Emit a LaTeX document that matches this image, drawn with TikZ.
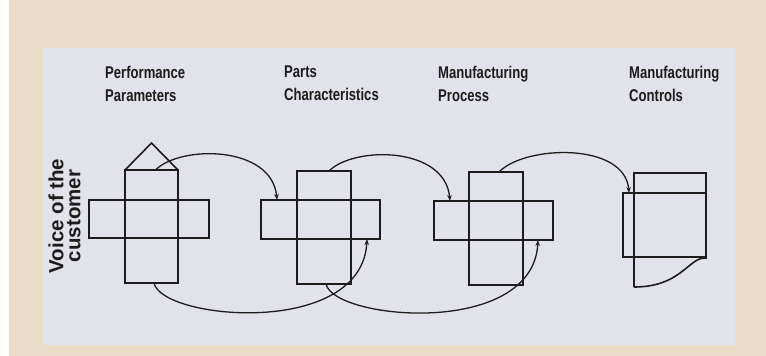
\documentclass[tikz,border=0pt]{standalone}
\usepackage{fontspec}
\setmainfont{Liberation Sans}
\newfontfamily\headfont{Liberation Sans}[FakeStretch=0.77,UprightFont=*-Bold]
\usetikzlibrary{arrows.meta,calc}
\definecolor{beige}{RGB}{233,221,199}
\definecolor{panel}{RGB}{226,227,234}
\definecolor{ink}{RGB}{28,28,28}
\begin{document}
\begin{tikzpicture}[x=1pt,y=-1pt,
  blk/.style={draw=ink, line width=1.6pt, inner sep=0pt, outer sep=0pt},
  conn/.style={draw=ink, line width=1.3pt, -{Stealth[length=6pt,width=4.5pt]}},
  head/.style={font=\headfont\fontsize{17}{23}\selectfont, align=left, inner sep=0pt, text=ink, anchor=north west},
  shp/.style={draw=ink, line width=1.6pt, line join=miter}]
\useasboundingbox (0,0) rectangle (766,356);
\fill[beige] (0,0) rectangle (766,356);
\fill[white] (0,0) rectangle (9,356);
\fill[panel] (43,48) rectangle (735,345);

% headers
\node[head] (t1) at (105,66) {Performance\\Parameters};
\node[head] (t2) at (284,66) {Parts\\Characteristics};
\node[head] (t3) at (438,66) {Manufacturing\\Process};
\node[head] (t4) at (629,66) {Manufacturing\\Controls};

% side label
\node[rotate=90, align=center, inner sep=0pt, text=ink,
      font=\bfseries\fontsize{20.5}{17}\selectfont] (voc) at (64.5,216) {Voice of the\\customer};

% unit 1
\node[blk, minimum width=120pt, minimum height=38pt] (h1) at (149,219) {};
\node[blk, minimum width=53pt, minimum height=113pt] (v1) at (151.5,226.5) {};
\draw[shp] (v1.north west) -- ($(v1.north)+(0,-27)$) -- (v1.north east);
% unit 2
\node[blk, minimum width=119pt, minimum height=39pt] (h2) at (320.5,219.5) {};
\node[blk, minimum width=54pt, minimum height=113pt] (v2) at (324,227.5) {};
% unit 3
\node[blk, minimum width=119pt, minimum height=39pt] (h3) at (493.5,220.5) {};
\node[blk, minimum width=54pt, minimum height=113pt] (v3) at (496,228.5) {};
% unit 4
\draw[shp] (634,287) -- (634,173) -- (706,173) -- (706,258) -- (704,258)
  .. controls (688,259) and (680,287) .. (634,287);
\node[blk, minimum width=83pt, minimum height=64pt] (f4) at (664.5,225) {};

% connector ends
\coordinate (a1s) at ($(v1.north)+(4,0)$);
\coordinate (a1e) at ($(h2.north west)+(16,0)$);
\coordinate (a2s) at ($(v2.north)+(5,0)$);
\coordinate (a2e) at ($(h3.north west)+(16,0)$);
\coordinate (a3s) at ($(v3.north)+(3,0)$);
\coordinate (a3e) at ($(f4.north west)+(6,0)$);
\coordinate (b1s) at ($(v1.south)+(2.5,0)$);
\coordinate (b1e) at ($(h2.south west)+(106,0)$);
\coordinate (b2s) at ($(v2.south)+(2,0)$);
\coordinate (b2e) at ($(h3.south west)+(104,0)$);

\draw[conn] (a1s) .. controls (180,145) and (272,145) .. (a1e);
\draw[conn] (a2s) .. controls (354,146) and (445,146) .. (a2e);
\draw[conn] (a3s) .. controls (525,145) and (625,142) .. (a3e);
\draw[conn] (b1s) .. controls (162,320) and (362,338) .. (b1e);
\draw[conn] (b2s) .. controls (334,320) and (533,338) .. (b2e);
\end{tikzpicture}
\end{document}
